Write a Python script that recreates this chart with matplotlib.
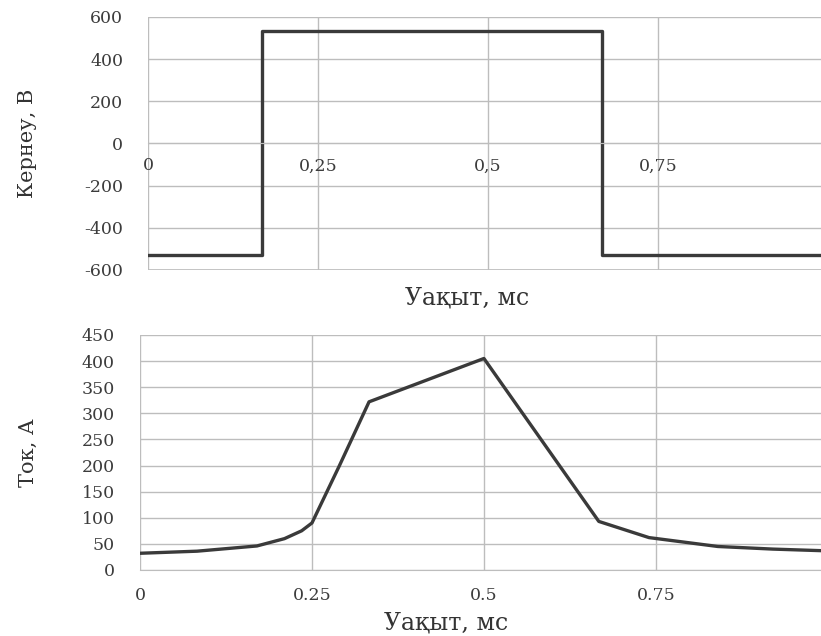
import numpy as np
import matplotlib
matplotlib.use("Agg")
from matplotlib import pyplot as plt

# voltage (step waveform)
t_switch = [0.0, 0.168, 0.668, 0.99]
voltage = [-530, 535, -530, -530]

# current
t_cur = [0.0, 0.083, 0.17, 0.21, 0.235, 0.25, 0.29, 0.333, 0.5, 0.667, 0.74, 0.84, 0.92, 0.99]
current = [32, 36, 46, 60, 75, 90, 200, 322, 405, 93, 62, 45, 40, 37]

x_ticks = [0, 0.25, 0.5, 0.75]
top_xlabels = ["0", "0,25", "0,5", "0,75"]
bot_xlabels = ["0", "0.25", "0.5", "0.75"]

plt.rcParams['font.family'] = ['DejaVu Serif']
plt.rcParams['axes.unicode_minus'] = False
grid_c = '#bdbdbd'
line_c = '#3a3a3a'
text_c = '#333333'
tick_c = '#3c3c3c'

fig = plt.figure(figsize=(8.21, 6.36), dpi=100)

# top: voltage
ax1 = fig.add_axes([0.1803, 0.5755, 0.8197, 0.3978])
ax1.plot(t_switch, voltage, drawstyle='steps-post', color=line_c, lw=2.4)
ax1.set_xlim(0, 0.99)
ax1.set_ylim(-600, 600)
ax1.set_yticks(np.arange(-600, 601, 200))
ax1.set_xticks(x_ticks)
ax1.set_xticklabels(top_xlabels)
ax1.grid(True, color=grid_c, lw=1)
for s in ['top', 'right', 'left']:
    ax1.spines[s].set_visible(False)
ax1.spines['bottom'].set_position(('data', 0))
ax1.spines['bottom'].set_color(grid_c)
ax1.axhline(-600, color=grid_c, lw=1.2)
ax1.tick_params(axis='y', length=0, pad=18, labelsize=12.5, labelcolor=tick_c)
ax1.tick_params(axis='x', length=0, pad=10, labelsize=12.5, labelcolor=tick_c)
ax1.set_ylabel("Кернеу, В", fontsize=15, color=text_c)
ax1.yaxis.set_label_coords(-0.165, 0.5)
fig.text(0.569, 0.531, "Уақыт, мс", ha='center', va='center', fontsize=17, color=text_c)

# bottom: current
ax2 = fig.add_axes([0.1705, 0.1038, 0.8295, 0.3695])
ax2.plot(t_cur, current, color=line_c, lw=2.4)
ax2.set_xlim(0, 0.99)
ax2.set_ylim(0, 450)
ax2.set_yticks(np.arange(0, 451, 50))
ax2.set_xticks(x_ticks)
ax2.set_xticklabels(bot_xlabels)
ax2.grid(True, color=grid_c, lw=1)
for s in ['top', 'right', 'left']:
    ax2.spines[s].set_visible(False)
ax2.spines['bottom'].set_color(grid_c)
ax2.tick_params(axis='y', length=0, pad=18, labelsize=12.5, labelcolor=tick_c)
ax2.tick_params(axis='x', length=0, pad=12, labelsize=12.5, labelcolor=tick_c)
ax2.set_ylabel("Ток, А", fontsize=15, color=text_c)
ax2.yaxis.set_label_coords(-0.15, 0.5)
fig.text(0.543, 0.02, "Уақыт, мс", ha='center', va='center', fontsize=17, color=text_c)

fig.savefig("out.png", dpi=100)
